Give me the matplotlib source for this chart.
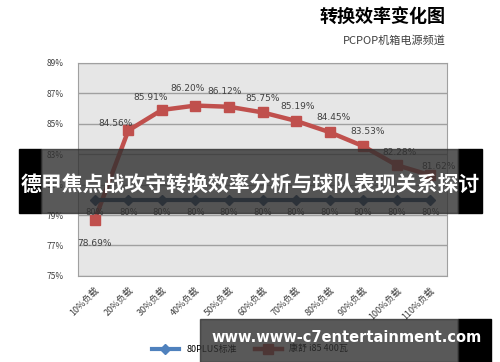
import matplotlib
matplotlib.use("Agg")
import matplotlib.pyplot as plt
from matplotlib.patches import Rectangle

plt.rcParams['font.family'] = ['Noto Sans CJK SC', 'DejaVu Sans']

categories = ['10%负载', '20%负载', '30%负载', '40%负载', '50%负载', '60%负载',
              '70%负载', '80%负载', '90%负载', '100%负载', '110%负载']
standard = [80, 80, 80, 80, 80, 80, 80, 80, 80, 80, 80]
kangshu = [78.69, 84.56, 85.91, 86.20, 86.12, 85.75, 85.19, 84.45, 83.53, 82.28, 81.62]
yticks = [75, 77, 79, 81, 83, 85, 87, 89]

# label offsets (points) for the red series labels
red_offsets = [(0, -14), (-9, 2), (-8, 6), (-6, 9), (-3, 8), (0, 7), (1, 7), (3, 7), (3, 7), (2, 6), (6, 3)]

fig = plt.figure(figsize=(5, 3.62), dpi=100)
ax = fig.add_axes([0.156, 0.238, 0.738, 0.588])
ax.set_facecolor('#e6e6e6')

x = list(range(len(categories)))
ax.plot(x, kangshu, color='#c0504d', lw=3.2, marker='s', ms=7, zorder=3,
        label='康舒 i85 400瓦')
ax.plot(x, standard, color='#1f3a5f', lw=3, marker='D', ms=5, zorder=4,
        label='80PLUS标准')

for i, v in enumerate(kangshu):
    dx, dy = red_offsets[i]
    ax.annotate(f'{v:.2f}%', (i, v), xytext=(dx, dy), textcoords='offset points',
                ha='center', va='bottom' if dy > 0 else 'top', fontsize=6.5,
                color='#404040', family=['DejaVu Sans'])
for i, v in enumerate(standard):
    ax.annotate(f'{v}%', (i, v), xytext=(0, -6), textcoords='offset points',
                ha='center', va='top', fontsize=6, color='#404040',
                family=['DejaVu Sans'])

ax.set_xlim(-0.5, len(categories) - 0.5)
ax.set_ylim(75, 89)
ax.set_yticks(yticks)
ax.set_yticklabels([f'{t}%' for t in yticks], fontsize=6, color='#404040')
ax.set_xticks(x)
ax.set_xticklabels(categories, rotation=45, ha='right', rotation_mode='anchor',
                   fontsize=6.5, color='#404040')
ax.tick_params(length=0, pad=10)
ax.tick_params(axis='x', pad=7)
ax.grid(axis='y', color='#a0a0a0', lw=1)
ax.set_axisbelow(True)
for s in ax.spines.values():
    s.set_color('#a0a0a0')

h, l = ax.get_legend_handles_labels()
leg = fig.legend(h[::-1], l[::-1], loc='center', bbox_to_anchor=(0.5, 0.035), ncol=2,
                 frameon=False, fontsize=6.5, handlelength=3, columnspacing=2)
leg.legend_handles[0].set_color('#4f81bd')

fig.text(0.89, 0.952, '转换效率变化图', ha='right', va='center', fontsize=13,
         fontweight='heavy', color='black')
fig.text(0.892, 0.888, 'PCPOP机箱电源频道', ha='right', va='center', fontsize=8,
         color='#404040')

# overlay banners
band = dict(transform=fig.transFigure, zorder=10)
fig.patches.append(Rectangle((0.038, 0.412), 0.044, 0.177, color='black', **band))
fig.patches.append(Rectangle((0.916, 0.412), 0.048, 0.177, color='black', **band))
fig.patches.append(Rectangle((0.082, 0.412), 0.834, 0.177, color='#303030', alpha=0.8, **band))
fig.text(0.5, 0.49, '德甲焦点战攻守转换效率分析与球队表现关系探讨', ha='center', va='center',
         fontsize=15, fontweight='bold', color='white', zorder=12)

fig.patches.append(Rectangle((0.916, 0.0), 0.066, 0.119, color='black', **band))
fig.patches.append(Rectangle((0.4, 0.0), 0.516, 0.119, color='#303030', alpha=0.8, **band))
fig.text(0.693, 0.068, 'www.www-c7entertainment.com', ha='center', va='center',
         fontsize=10.5, fontweight='bold', color='white', family=['DejaVu Sans'], zorder=12)

fig.savefig('out.png', dpi=100, facecolor='white')
